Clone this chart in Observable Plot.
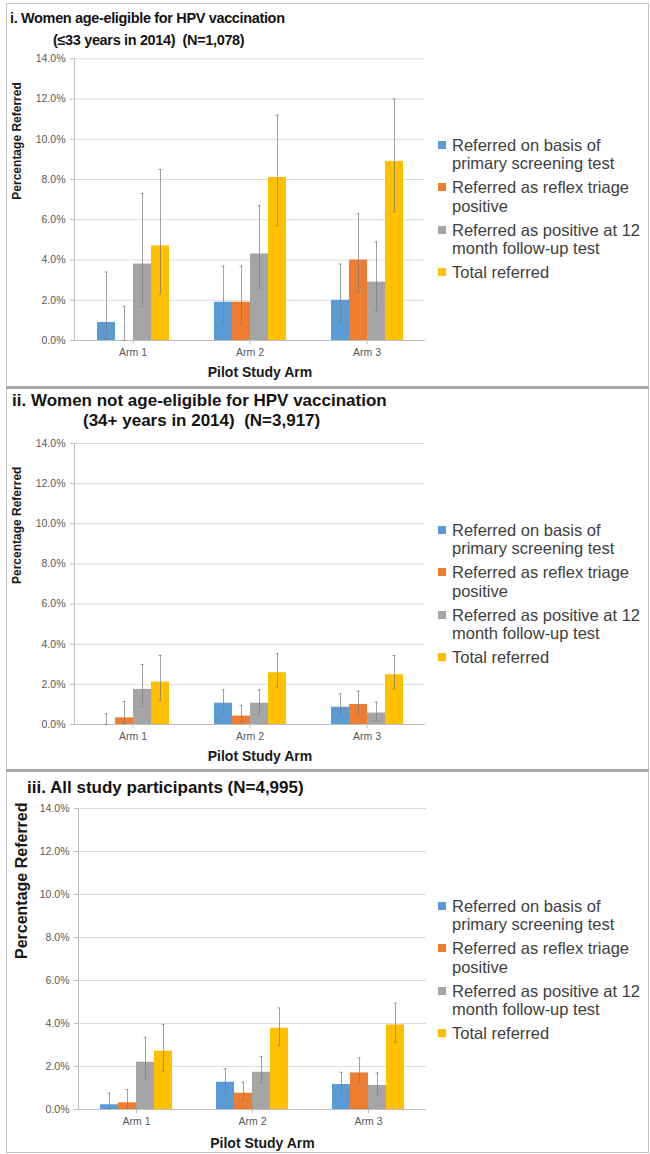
<!DOCTYPE html>
<html>
<head>
<meta charset="utf-8">
<script src="https://cdn.jsdelivr.net/npm/d3@7"></script>
<script src="https://cdn.jsdelivr.net/npm/@observablehq/plot@0.6"></script>
<style>
  body { margin: 0; background: #fff; font-family: "Liberation Sans", Arial, sans-serif; }
  #fig { position: relative; width: 650px; height: 1154px; overflow: hidden; background: #fff; }
  .box { position: absolute; left: 6px; top: 3px; width: 643px; height: 1150px; border: 1px solid #c4c4c4; box-sizing: border-box; }
  .divider { position: absolute; left: 6px; width: 643px; height: 3px; background: #a8a8a8; }
  .title { position: absolute; font-weight: bold; color: #141414; white-space: pre; line-height: 1; }
  .chart { position: absolute; left: 0; }
  .legend { position: absolute; left: 437px; color: #404040; font-size: 16.5px; line-height: 18.5px; white-space: nowrap; }
  .legend .item { position: relative; padding-left: 15px; margin-bottom: 5.5px; }
  .legend .sw { position: absolute; left: 1px; top: 5px; width: 8px; height: 8px; }
</style>
</head>
<body>
<div id="fig">
  <div class="box"></div>
  <div class="divider" style="top:386px"></div>
  <div class="divider" style="top:769px"></div>
</div>
<script>
// Study arms, referral categories and their colours
const arms = ["Arm 1", "Arm 2", "Arm 3"];
const series = [
  "Referred on basis of primary screening test",
  "Referred as reflex triage positive",
  "Referred as positive at 12 month follow-up test",
  "Total referred"
];
const legendLines = [
  ["Referred on basis of", "primary screening test"],
  ["Referred as reflex triage", "positive"],
  ["Referred as positive at 12", "month follow-up test"],
  ["Total referred"]
];
const colors = ["#5B9BD5", "#ED7D31", "#A5A5A5", "#FFC000"];
const yTicks = [0, 2, 4, 6, 8, 10, 12, 14];

// i. Women age-eligible for HPV vaccination (percent referred; rows = arms, columns = series)
const eligibleValues = [[0.9, 0.0, 3.8, 4.7], [1.9, 1.9, 4.3, 8.1], [2.0, 4.0, 2.9, 8.9]];
const eligibleLower  = [[0.1, 0.0, 1.7, 2.3], [0.8, 0.8, 2.6, 5.7], [0.9, 2.4, 1.5, 6.4]];
const eligibleUpper  = [[3.4, 1.7, 7.3, 8.5], [3.7, 3.7, 6.7, 11.2], [3.8, 6.3, 4.9, 12.0]];

// ii. Women not age-eligible for HPV vaccination
const notEligibleValues = [[0.0, 0.33, 1.75, 2.11], [1.06, 0.42, 1.06, 2.58], [0.86, 1.0, 0.57, 2.48]];
const notEligibleLower  = [[0.0, 0.03, 0.91, 1.2], [0.58, 0.12, 0.53, 1.86], [0.45, 0.53, 0.2, 1.78]];
const notEligibleUpper  = [[0.53, 1.15, 2.99, 3.44], [1.73, 0.95, 1.73, 3.53], [1.53, 1.66, 1.11, 3.44]];

// iii. All study participants
const allValues = [[0.22, 0.31, 2.2, 2.71], [1.27, 0.76, 1.73, 3.78], [1.16, 1.7, 1.12, 3.93]];
const allLower  = [[0.03, 0.06, 1.42, 1.78], [0.81, 0.42, 1.22, 2.97], [0.73, 1.19, 0.68, 3.13]];
const allUpper  = [[0.76, 0.93, 3.36, 3.95], [1.89, 1.27, 2.46, 4.72], [1.73, 2.4, 1.7, 4.94]];

const fig = document.getElementById("fig");

function addTitle(text, left, top, size, spacing) {
  const d = document.createElement("div");
  d.className = "title";
  d.textContent = text;
  d.style.left = left + "px";
  d.style.top = top + "px";
  d.style.fontSize = size + "px";
  if (spacing) d.style.letterSpacing = spacing + "px";
  fig.appendChild(d);
}

function addLegend(top) {
  const lg = document.createElement("div");
  lg.className = "legend";
  lg.style.top = top + "px";
  legendLines.forEach((lines, i) => {
    const item = document.createElement("div");
    item.className = "item";
    const sw = document.createElement("span");
    sw.className = "sw";
    sw.style.background = colors[i];
    item.appendChild(sw);
    lines.forEach((l, j) => {
      if (j) item.appendChild(document.createElement("br"));
      item.appendChild(document.createTextNode(l));
    });
    lg.appendChild(item);
  });
  fig.appendChild(lg);
}

function drawPanel(p) {
  const rows = arms.flatMap((arm, a) => series.map((s, k) => ({
    arm, series: s, value: p.values[a][k], lo: p.lower[a][k], hi: p.upper[a][k]
  })));
  const width = 440;
  const chart = Plot.plot({
    width,
    height: p.height,
    marginTop: p.marginTop,
    marginBottom: p.marginBottom,
    marginLeft: p.marginLeft,
    marginRight: p.marginRight,
    style: { fontFamily: "'Liberation Sans', Arial, sans-serif", background: "transparent", overflow: "visible" },
    fx: { domain: arms, padding: 0 },
    x: { domain: series, paddingInner: 0, paddingOuter: 1.09, axis: null },
    y: { domain: [0, 14] },
    color: { domain: series, range: colors },
    marks: [
      Plot.gridY(yTicks, { stroke: "#dcdcdc", strokeOpacity: 1 }),
      Plot.axisY(yTicks, {
        tickSize: 4, tickPadding: 5, fontSize: 10.5,
        tickFormat: d => d.toFixed(1) + "%",
        fill: "#595959", stroke: "#bfbfbf", label: null
      }),
      Plot.frame({ anchor: "left", facetAnchor: "left", stroke: "#bfbfbf" }),
      Plot.ruleY([0], { stroke: "#bfbfbf" }),
      Plot.barY(rows, { fx: "arm", x: "series", y: "value", fill: "series" }),
      Plot.ruleX(rows, { fx: "arm", x: "series", y1: "lo", y2: "hi", stroke: "#7a7a7a", strokeOpacity: 0.7 }),
      Plot.tickY(rows, { fx: "arm", x: "series", y: "hi", insetLeft: 7.5, insetRight: 7.5, stroke: "#7a7a7a", strokeOpacity: 0.7 }),
      Plot.tickY(rows, { fx: "arm", x: "series", y: "lo", insetLeft: 7.5, insetRight: 7.5, stroke: "#7a7a7a", strokeOpacity: 0.7 }),
      Plot.axisFx({ anchor: "bottom", tickSize: 4, tickPadding: 4, fontSize: 10.5, fill: "#595959", stroke: "#bfbfbf", label: null }),
      Plot.text([{ arm: arms[0], t: "Percentage Referred" }], {
        fx: "arm", text: "t", frameAnchor: "left", rotate: -90,
        dx: p.yLabelX - p.marginLeft, fontSize: p.yLabelSize, fontWeight: "bold", fill: "#1a1a1a"
      }),
      Plot.text([{ arm: arms[1], t: "Pilot Study Arm" }], {
        fx: "arm", text: "t", frameAnchor: "bottom", dy: p.xLabelDy, dx: 10,
        fontSize: 14, fontWeight: "bold", fill: "#1a1a1a"
      })
    ]
  });
  chart.classList.add("chart");
  chart.style.top = p.top + "px";
  fig.appendChild(chart);
}

// Panel i
addTitle("i. Women age-eligible for HPV vaccination", 10, 10.5, 14.5, -0.35);
addTitle("(\u226433 years in 2014)  (N=1,078)", 53, 32.5, 14.5, -0.35);
drawPanel({
  values: eligibleValues, lower: eligibleLower, upper: eligibleUpper,
  top: 50, height: 335, marginTop: 8.3, marginBottom: 45, marginLeft: 73, marginRight: 15,
  yLabelX: 15.5, yLabelSize: 12, xLabelDy: 36
});
addLegend(135.75);

// Panel ii
addTitle("ii. Women not age-eligible for HPV vaccination", 12, 391.5, 17);
addTitle("(34+ years in 2014)  (N=3,917)", 83, 411.5, 17);
drawPanel({
  values: notEligibleValues, lower: notEligibleLower, upper: notEligibleUpper,
  top: 430, height: 336, marginTop: 13, marginBottom: 42, marginLeft: 73, marginRight: 15,
  yLabelX: 16, yLabelSize: 12, xLabelDy: 36
});
addLegend(520.75);

// Panel iii
addTitle("iii. All study participants (N=4,995)", 27, 778.5, 17);
drawPanel({
  values: allValues, lower: allLower, upper: allUpper,
  top: 795, height: 356, marginTop: 13, marginBottom: 42, marginLeft: 77, marginRight: 13,
  yLabelX: 20, yLabelSize: 16, xLabelDy: 38
});
addLegend(896.75);
</script>
</body>
</html>
